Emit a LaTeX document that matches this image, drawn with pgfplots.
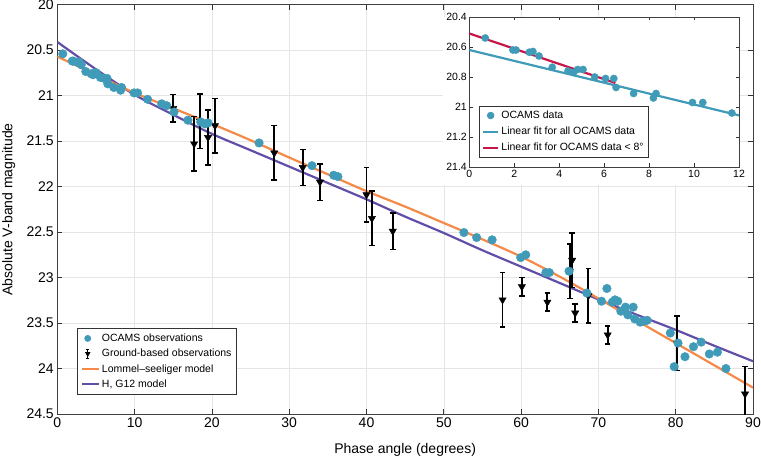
\documentclass[border=0pt]{standalone}
\usepackage{fontspec}
\setmainfont{Liberation Sans}
\usepackage{pgfplots}
\pgfplotsset{compat=1.18}
\usetikzlibrary{calc}

\definecolor{ocams}{RGB}{64,155,184}
\definecolor{lsorange}{RGB}{245,138,72}
\definecolor{hgpurple}{RGB}{98,78,168}
\definecolor{fitred}{RGB}{200,22,72}

% OCAMS photometry (phase angle, V magnitude)
\pgfplotstableread{
x y
0.71 20.54
1.94 20.62
2.08 20.62
2.67 20.635
2.83 20.63
3.10 20.66
3.69 20.735
4.39 20.76
4.64 20.77
4.82 20.75
5.06 20.75
5.58 20.80
6.06 20.81
6.43 20.81
6.53 20.87
7.31 20.91
8.19 20.94
8.31 20.91
9.93 20.97
10.39 20.97
11.68 21.04
13.5 21.09
14.15 21.11
15.1 21.18
16.9 21.27
18.55 21.29
19.1 21.31
19.5 21.30
26.1 21.52
32.95 21.77
35.75 21.875
36.3 21.89
52.6 22.505
54.25 22.56
56.25 22.585
59.95 22.78
60.6 22.75
63.2 22.945
63.65 22.945
66.2 22.93
68.5 23.17
70.4 23.26
71.1 23.12
71.8 23.27
72.15 23.245
72.5 23.26
72.9 23.37
73.5 23.325
73.8 23.41
74.5 23.325
74.7 23.455
75.4 23.49
75.8 23.48
76.3 23.47
79.3 23.61
79.8 23.98
80.3 23.72
81.2 23.87
82.3 23.76
83.3 23.71
84.35 23.84
85.4 23.82
86.5 24.00
}\ocamsdata

% ground-based observations with errors
\pgfplotstableread{
x y e
15.0 21.14 0.15
17.7 21.53 0.30
18.45 21.28 0.30
19.5 21.46 0.30
20.4 21.33 0.30
28.07 21.63 0.30
31.75 21.79 0.20
33.98 21.95 0.20
40.0 22.09 0.30
40.7 22.35 0.30
43.4 22.49 0.20
57.6 23.245 0.30
60.1 23.10 0.10
63.4 23.27 0.10
66.3 22.93 0.30
66.6 22.81 0.30
67.0 23.39 0.10
68.7 23.20 0.30
71.2 23.63 0.10
80.2 23.72 0.30
88.97 24.28 0.30
}\grounddata

\pgfplotstableread{
x y
0 20.57
5 20.77
10 20.97
15 21.14
20 21.31
25 21.49
30 21.68
35 21.865
40 22.05
45 22.22
50 22.40
55 22.58
60 22.77
65 22.99
70 23.23
75 23.475
80 23.72
85 23.965
90 24.21
}\lsmodel

\pgfplotstableread{
x y
0 20.41
5 20.71
10 20.99
15 21.21
20 21.42
25 21.60
30 21.78
35 21.96
40 22.14
45 22.33
50 22.51
55 22.70
60 22.88
65 23.06
70 23.24
75 23.41
80 23.575
85 23.75
90 23.92
}\hgmodel

\begin{document}
\begin{tikzpicture}
\begin{axis}[name=main,
  scale only axis, width=695.7pt, height=409.3pt,
  xmin=0, xmax=90, ymin=20, ymax=24.5, y dir=reverse,
  xtick={0,10,...,90}, ytick={20,20.5,...,24.5},
  grid=major, major grid style={black!10, line width=0.5pt},
  axis line style={black!75, line width=0.9pt},
  tick style={black!80, line width=0.8pt}, major tick length=5pt,
  tick label style={font=\fontsize{14}{17}\selectfont},
  /pgf/number format/assume math mode=true,
  xlabel={Phase angle (degrees)}, ylabel={Absolute V-band magnitude},
  label style={font=\fontsize{14}{17}\selectfont},
  xlabel style={at={(axis description cs:0.5,0)}, anchor=north, yshift=-29pt, inner sep=0pt},
  ylabel style={at={(axis description cs:-0.0795,0.5)}, anchor=north, inner sep=0pt},
  reverse legend,
  legend cell align=left,
  legend style={at={(0.0287,0.0481)}, anchor=south west, draw=black!80, line width=0.8pt,
    font=\fontsize{10.5}{12}\selectfont, row sep=2.2pt, inner sep=3pt},
]
\addplot[hgpurple, line width=2.2pt, smooth] table {\hgmodel};
\addlegendentry{H, G12 model}
\addplot[lsorange, line width=2.2pt, smooth] table {\lsmodel};
\addlegendentry{Lommel--seeliger model}
\addplot[black, only marks, mark=triangle*, mark size=4.2pt, mark options={rotate=180},
  legend image code/.code={
    \draw[line width=1pt] (0.21cm,-0.17cm) -- (0.21cm,0.17cm);
    \draw[line width=0.8pt] (0.16cm,-0.17cm) -- (0.26cm,-0.17cm);
    \draw[line width=0.8pt] (0.16cm,0.17cm) -- (0.26cm,0.17cm);
    \draw[mark=triangle*, mark size=2.4pt, mark options={rotate=180}] plot coordinates {(0.21cm,0cm)};
  },
  error bars/.cd, y dir=both, y explicit,
  error bar style={line width=1.8pt, black},
  error mark options={rotate=90, line width=1.5pt, mark size=2.8pt, black}]
  table[y error=e] {\grounddata};
\addlegendentry{Ground-based observations}
\addplot[only marks, mark=*, mark size=4.3pt, color=ocams,
  legend image code/.code={
    \draw[mark=*, mark size=3pt, ocams] plot coordinates {(0.21cm,0cm)};
  }] table {\ocamsdata};
\addlegendentry{OCAMS observations}
\end{axis}

\fill[white] ($(main.south west)+(385.7pt,229pt)$) rectangle ($(main.south west)+(682.7pt,397pt)$);

\begin{axis}[name=inset,
  at={($(main.south west)+(412pt,247pt)$)}, anchor=south west,
  scale only axis, width=269.7pt, height=150pt,
  xmin=0, xmax=12, ymin=20.4, ymax=21.4, y dir=reverse,
  xtick={0,2,...,12}, ytick={20.4,20.6,...,21.4},
  axis background/.style={fill=white},
  axis line style={black!75, line width=0.8pt},
  tick style={black!80, line width=0.7pt}, major tick length=3.5pt,
  tick label style={font=\fontsize{10.5}{12}\selectfont},
  /pgf/number format/assume math mode=true,
  yticklabel style={xshift=1pt},
  legend cell align=left,
  legend style={at={(0.035,0.062)}, anchor=south west, draw=black!80, line width=0.8pt,
    font=\fontsize{10.5}{12}\selectfont, row sep=3pt, inner sep=3pt},
  legend image code/.code={\draw[#1] (0cm,0cm) -- (0.53cm,0cm);},
]
\addplot[only marks, mark=*, mark size=3.6pt, color=ocams,
  legend image code/.code={
    \draw[mark=*, mark size=3.3pt, ocams] plot coordinates {(0.26cm,0cm)};
  }] table {\ocamsdata};
\addlegendentry{OCAMS data}
\addplot[ocams, line width=2.2pt] coordinates {(0,20.62) (12,21.056)};
\addlegendentry{Linear fit for all OCAMS data}
\addplot[fitred, line width=2.2pt] coordinates {(0,20.51) (6.5,20.84)};
\addlegendentry{Linear fit for OCAMS data < 8°}
\end{axis}

\pgfresetboundingbox
\path[use as bounding box] ($(main.south west)+(-57.3pt,-42pt)$) rectangle ($(main.north east)+(8pt,4.7pt)$);
\end{tikzpicture}
\end{document}
